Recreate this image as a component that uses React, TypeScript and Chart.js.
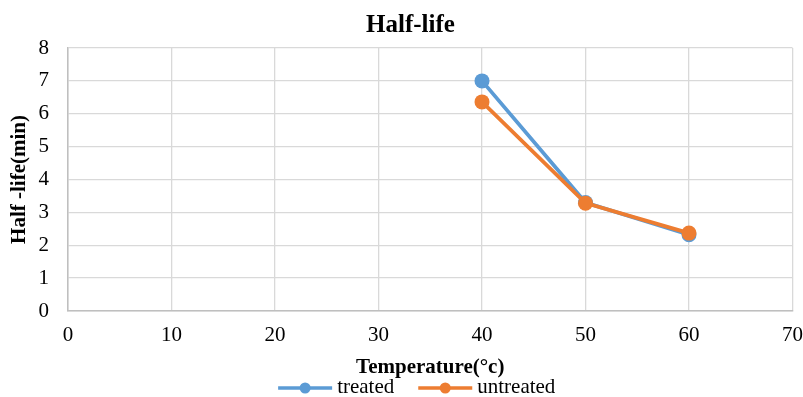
import { useEffect, useRef } from "react";
import { Chart, registerables } from "chart.js";

Chart.register(...registerables);

// ---- data ----
const temperatures = [40, 50, 60];
const treatedHalfLife = [7.0, 3.3, 2.32];
const untreatedHalfLife = [6.36, 3.28, 2.37];
const seriesLabels = ["treated", "untreated"];
const seriesColors = ["#5B9BD5", "#ED7D31"];
const chartTitle = "Half-life";
const xAxisTitle = "Temperature(°c)";
const yAxisTitle = "Half -life(min)";
const xRange = [0, 70, 10];
const yRange = [0, 8, 1];

const FONT = "'Liberation Serif', 'Times New Roman', serif";

const titleShift = {
  id: "titleShift",
  afterLayout(chart: any) {
    const t = chart.titleBlock;
    if (t) {
      t.left += 9;
      t.right += 9;
    }
  },
};

const excelLegend = {
  id: "excelLegend",
  afterDraw(chart: any) {
    const ctx = chart.ctx as CanvasRenderingContext2D;
    const area = chart.chartArea;
    const datasets = chart.data.datasets;
    ctx.save();
    ctx.font = `21px ${FONT}`;
    const lineLen = 54;
    const gap = 5;
    const spacing = 24;
    const widths = datasets.map(
      (d: any) => lineLen + gap + ctx.measureText(d.label).width
    );
    const total =
      widths.reduce((a: number, b: number) => a + b, 0) +
      spacing * (datasets.length - 1);
    let x = (area.left + area.right) / 2 - 13.5 - total / 2;
    const yLine = chart.height - 9;
    const yText = chart.height - 4;
    datasets.forEach((d: any, i: number) => {
      const color = d.borderColor;
      ctx.strokeStyle = color;
      ctx.lineWidth = 3.5;
      ctx.beginPath();
      ctx.moveTo(x, yLine);
      ctx.lineTo(x + lineLen, yLine);
      ctx.stroke();
      ctx.fillStyle = color;
      ctx.beginPath();
      ctx.arc(x + lineLen / 2, yLine, 5.5, 0, Math.PI * 2);
      ctx.fill();
      ctx.fillStyle = "#000";
      ctx.textAlign = "left";
      ctx.textBaseline = "alphabetic";
      ctx.fillText(d.label, x + lineLen + gap, yText);
      x += widths[i] + spacing;
    });
    ctx.restore();
  },
};

export default function App() {
  const canvasRef = useRef<HTMLCanvasElement | null>(null);

  useEffect(() => {
    document.body.style.margin = "0";
    const canvas = canvasRef.current;
    if (!canvas) return;

    const series = [treatedHalfLife, untreatedHalfLife];
    const datasets = series.map((vals, i) => ({
      label: seriesLabels[i],
      data: temperatures.map((t, j) => ({ x: t, y: vals[j] })),
      borderColor: seriesColors[i],
      backgroundColor: seriesColors[i],
      pointBackgroundColor: seriesColors[i],
      pointBorderColor: seriesColors[i],
      pointRadius: 7.5,
      pointBorderWidth: 0,
      borderWidth: 3.75,
      tension: 0,
      order: series.length - i,
    }));

    const tickFont = { family: FONT, size: 21 };
    const axisTitleFont = { family: FONT, size: 21, weight: "bold" as const };

    const chart = new Chart(canvas, {
      type: "line",
      data: { datasets },
      plugins: [titleShift, excelLegend],
      options: {
        animation: false,
        responsive: false,
        maintainAspectRatio: false,
        layout: { padding: { left: 0, right: 0, top: 0, bottom: 0 } },
        plugins: {
          legend: { display: false },
          tooltip: { enabled: false },
          title: {
            display: true,
            text: chartTitle,
            color: "#000",
            font: { family: FONT, size: 25, weight: "bold" },
            padding: { top: 11, bottom: 7 },
          },
        },
        scales: {
          x: {
            type: "linear",
            min: xRange[0],
            max: xRange[1],
            ticks: {
              stepSize: xRange[2],
              color: "#000",
              font: tickFont,
              padding: 0,
            },
            grid: {
              color: "#d9d9d9",
              lineWidth: 1.3,
              drawTicks: true,
              tickLength: 12,
              tickColor: "rgba(0,0,0,0)",
            },
            border: { color: "#bfbfbf", width: 1.5 },
            title: {
              display: true,
              text: xAxisTitle,
              color: "#000",
              font: axisTitleFont,
              padding: { top: 0, bottom: 16.4 },
            },
            afterFit: (s: any) => {
              s.height = 86;
            },
          },
          y: {
            min: yRange[0],
            max: yRange[1],
            ticks: {
              stepSize: yRange[2],
              color: "#000",
              font: tickFont,
              padding: 19,
            },
            grid: { color: "#d9d9d9", lineWidth: 1.3, drawTicks: false },
            border: { color: "#bfbfbf", width: 1.5 },
            title: {
              display: true,
              text: yAxisTitle,
              color: "#000",
              font: axisTitleFont,
              padding: { top: 7.4, bottom: 0 },
            },
            afterFit: (s: any) => {
              s.width = 68;
            },
          },
        },
      },
    });

    return () => chart.destroy();
  }, []);

  return (
    <div style={{ width: 803, height: 397 }}>
      <canvas ref={canvasRef} width={803} height={397} />
    </div>
  );
}
